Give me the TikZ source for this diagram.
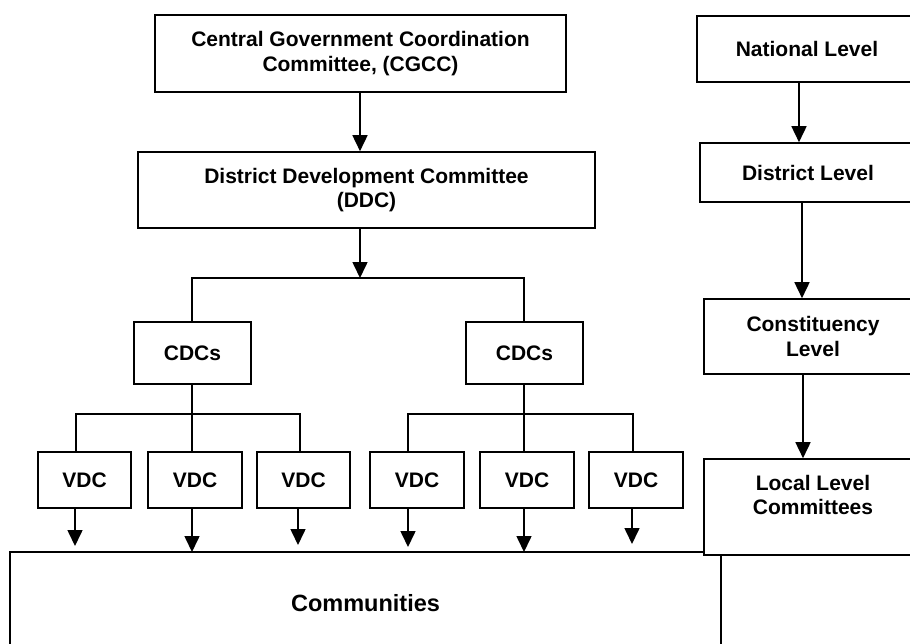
\documentclass[tikz,border=0pt]{standalone}
\usepackage{fontspec}
\setmainfont{Liberation Sans}
\usetikzlibrary{arrows.meta}
\begin{document}
\begin{tikzpicture}[x=1pt,y=-1pt,
  box/.style={draw, line width=1.6pt, fill=white, align=center, inner sep=0pt,
    font=\fontsize{21}{24.5}\selectfont\bfseries},
  ln/.style={line width=1.6pt},
  arr/.style={line width=1.6pt, -{Triangle[width=15pt,length=16pt]}}]
\path[use as bounding box, clip] (0,0) rectangle (910,643);
\fill[white] (0,0) rectangle (910,643);

% left hierarchy
\node[box, minimum width=411, minimum height=77] (cgcc) at (360.5,53.5)
  {Central Government Coordination\\Committee, (CGCC)};
\node[box, minimum width=457, minimum height=76] (ddc) at (366.5,190)
  {District Development Committee\\(DDC)};
\node[box, minimum width=117, minimum height=62] (cdcL) at (192.5,353) {CDCs};
\node[box, minimum width=117, minimum height=62] (cdcR) at (524.5,353) {CDCs};

\node[box, minimum width=93, minimum height=56] (v1) at (84.5,480) {VDC};
\node[box, minimum width=94, minimum height=56] (v2) at (195,480) {VDC};
\node[box, minimum width=93, minimum height=56] (v3) at (303.5,480) {VDC};
\node[box, minimum width=94, minimum height=56] (v4) at (417,480) {VDC};
\node[box, minimum width=94, minimum height=56] (v5) at (527,480) {VDC};
\node[box, minimum width=94, minimum height=56] (v6) at (636,480) {VDC};

\node[box, minimum width=711, minimum height=102,
  font=\fontsize{23.5}{27}\selectfont\bfseries] (comm) at (365.5,603) {Communities};

% right column of levels
\node[box, minimum width=220, minimum height=66] (nat) at (807,49) {National Level};
\node[box, minimum width=216, minimum height=59] (dist) at (808,172.5) {District Level};
\node[box, minimum width=218, minimum height=75] (cons) at (813,336.5) {Constituency\\Level};
\node[box, minimum width=218, minimum height=96] (loc) at (813,507) {Local Level\\Committees\\\mbox{}};

% junction points of the bus lines
\coordinate (j1) at (360,278);
\coordinate (t1) at (76,414);
\coordinate (t3) at (300,414);
\coordinate (t4) at (408,414);
\coordinate (t6) at (633,414);
% arrow tips above the communities box
\coordinate (a1) at (75,546);
\coordinate (a2) at (192,552);
\coordinate (a3) at (298,545);
\coordinate (a4) at (408,547);
\coordinate (a5) at (524,552);
\coordinate (a6) at (632,544);

% connectors
\draw[arr] (cgcc.south -| j1) -- (j1 |- ddc.north);
\draw[arr] (ddc.south -| j1) -- (j1);
\draw[ln] (cdcL.north -| a2) |- (j1) -| (cdcR.north -| a5);

\draw[ln] (cdcL.south -| a2) -- (a2 |- v2.north);
\draw[ln] (v1.north -| t1) -- (t1) -- (t3) -- (v3.north -| t3);
\draw[ln] (cdcR.south -| a5) -- (a5 |- v5.north);
\draw[ln] (v4.north -| t4) -- (t4) -- (t6) -- (v6.north -| t6);

\draw[arr] (v1.south -| a1) -- (a1);
\draw[arr] (v2.south -| a2) -- (a2);
\draw[arr] (v3.south -| a3) -- (a3);
\draw[arr] (v4.south -| a4) -- (a4);
\draw[arr] (v5.south -| a5) -- (a5);
\draw[arr] (v6.south -| a6) -- (a6);

\draw[arr] ([xshift=-8pt]nat.south) -- ([xshift=-8pt]nat.south |- dist.north);
\draw[arr] ([xshift=-6pt]dist.south) -- ([xshift=-6pt]dist.south |- cons.north);
\draw[arr] ([xshift=-10pt]cons.south) -- ([xshift=-10pt]cons.south |- loc.north);
\end{tikzpicture}
\end{document}
